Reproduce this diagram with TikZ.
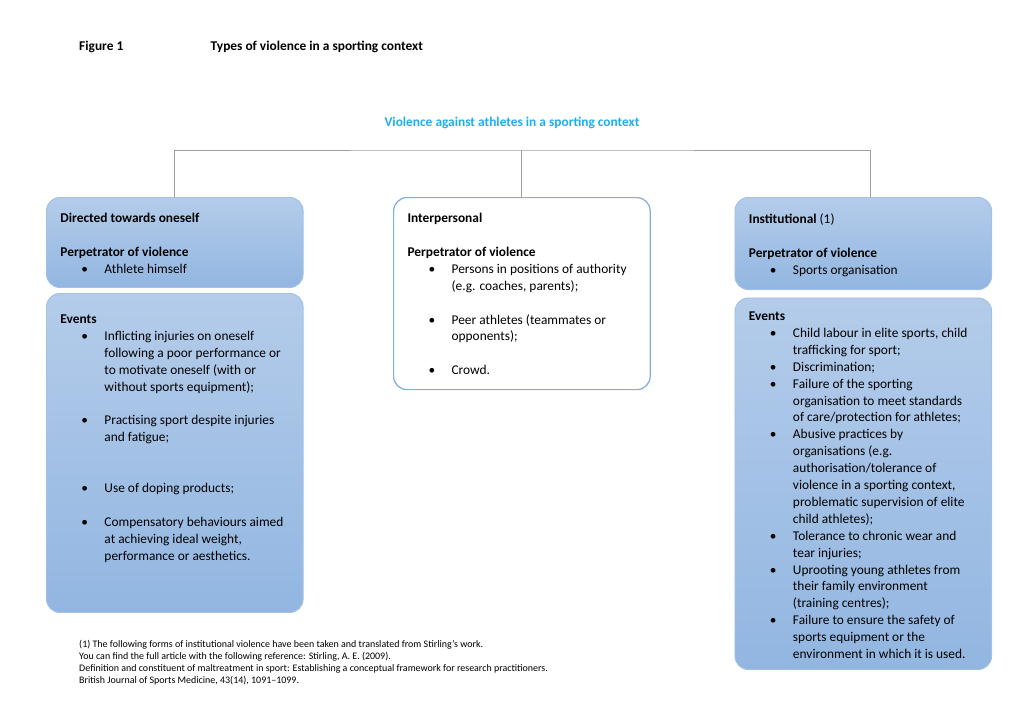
\documentclass[tikz,border=0pt]{standalone}
\usepackage{fontspec}
\setmainfont{Carlito}
\usetikzlibrary{positioning}

\definecolor{boxtop}{HTML}{B4CCEA}
\definecolor{boxbottom}{HTML}{92B6E1}
\definecolor{boxline}{HTML}{A3C1E6}
\definecolor{openline}{HTML}{7FAFE0}
\definecolor{headblue}{HTML}{1EAEEC}
\definecolor{linkgray}{HTML}{9C9C9C}

% panel contents: height, first baseline, text
\newcommand{\panelbody}[3]{\begin{minipage}[t][#1][t]{211pt}\fontsize{11}{13.9}\selectfont\raggedright\leftskip=11.5pt\rule{0pt}{#2}#3\end{minipage}}
\newcommand{\bul}{\par\hangindent=36.2pt\hangafter=0\noindent\llap{\makebox[32.4pt]{\textbullet}}}
\newcommand{\emptyline}{\par\vspace{13.9pt}}

\begin{document}
\begin{tikzpicture}[x=0.8223pt, y=-0.8223pt,
	panel/.style={anchor=north west, inner sep=0pt, rounded corners=11pt, line width=0.8pt},
	shaded panel/.style={panel, draw=boxline, top color=boxtop, bottom color=boxbottom},
	open panel/.style={panel, draw=openline, fill=white, line width=1pt},
	link/.style={draw=linkgray, line width=0.8pt}]
		\useasboundingbox (0,0) rectangle (1024,722);
		
		% Define headings
		\node[anchor=base west, inner sep=0pt, font=\fontsize{11}{13.9}\selectfont\bfseries] (Figure_No) at (79,50) {Figure 1};
		\node[anchor=base west, inner sep=0pt, font=\fontsize{11}{13.9}\selectfont\bfseries] (Figure_Title) at (210.5,50) {Types of violence in a sporting context};
		\node[anchor=base, inner sep=0pt, text=headblue, font=\fontsize{11}{13.9}\selectfont\bfseries] (Root) at (512,126) {Violence against athletes in a sporting context};
		
		% Define panels
		\node[shaded panel] (Self_Perpetrator) at (46,197) {\panelbody{74pt}{20.6pt}{%
			\textbf{Directed towards oneself}\emptyline
			\textbf{Perpetrator of violence}
			\bul Athlete himself}};
		\node[shaded panel] (Self_Events) at (46,293) {\panelbody{262.3pt}{24.7pt}{%
			\textbf{Events}
			\bul Inflicting injuries on oneself\newline following a poor performance or\newline to motivate oneself (with or\newline without sports equipment);\emptyline
			\bul Practising sport despite injuries\newline and fatigue;\par\vspace{27.8pt}
			\bul Use of doping products;\emptyline
			\bul Compensatory behaviours aimed\newline at achieving ideal weight,\newline performance or aesthetics.}};
		\node[open panel] (Interpersonal) at (393,197) {\panelbody{157.9pt}{20.6pt}{%
			\textbf{Interpersonal}\emptyline
			\textbf{Perpetrator of violence}
			\bul Persons in positions of authority\newline (e.g. coaches, parents);\emptyline
			\bul Peer athletes (teammates or\newline opponents);\emptyline
			\bul Crowd.}};
		\node[shaded panel] (Inst_Perpetrator) at (734.5,197) {\panelbody{75.7pt}{21.4pt}{%
			\textbf{Institutional} (1)\emptyline
			\textbf{Perpetrator of violence}
			\bul Sports organisation}};
		\node[shaded panel] (Inst_Events) at (734.5,297.5) {\panelbody{305.5pt}{18.5pt}{%
			\textbf{Events}
			\bul Child labour in elite sports, child\newline trafficking for sport;
			\bul Discrimination;
			\bul Failure of the sporting\newline organisation to meet standards\newline of care/protection for athletes;
			\bul Abusive practices by\newline organisations (e.g.\newline authorisation/tolerance of\newline violence in a sporting context,\newline problematic supervision of elite\newline child athletes);
			\bul Tolerance to chronic wear and\newline tear injuries;
			\bul Uprooting young athletes from\newline their family environment\newline (training centres);
			\bul Failure to ensure the safety of\newline sports equipment or the\newline environment in which it is used.}};
		
		% Define footnote
		\node[anchor=north west, inner sep=0pt, align=left, font=\fontsize{8.2}{10.1}\selectfont] (Footnote) at (79,639.5) {(1) The following forms of institutional violence have been taken and translated from Stirling's work.\\You can find the full article with the following reference: Stirling, A. E. (2009).\\Definition and constituent of maltreatment in sport: Establishing a conceptual framework for research practitioners.\\British Journal of Sports Medicine, 43(14), 1091--1099.};
		
		% Define connectors
		\path (Interpersonal.north) ++(0,-47) coordinate (Hub);
		\coordinate (Inst_Join) at (870,197);
		\draw[link] (Self_Perpetrator.north) |- (Hub) -| (Inst_Join);
		\draw[link] (Hub) -- (Interpersonal.north);
	\end{tikzpicture}
\end{document}
